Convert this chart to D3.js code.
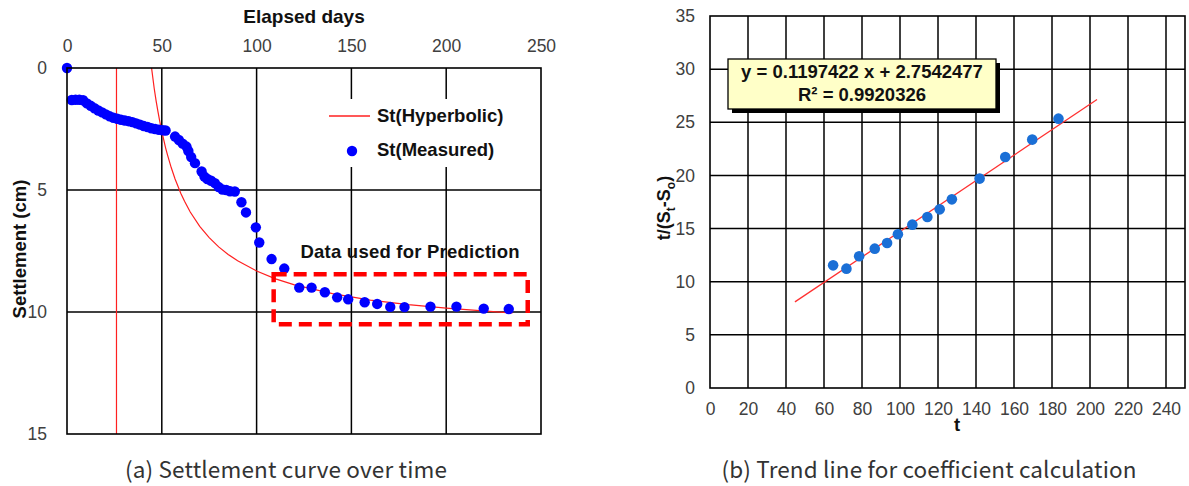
<!DOCTYPE html>
<html><head><meta charset="utf-8">
<script src="https://cdn.jsdelivr.net/npm/d3@7"></script>
<style>body{margin:0;background:#fff}svg{display:block}</style>
</head><body>
<svg id="c" width="1189" height="486"></svg>
<script>
// ---- Panel (a) data ----
const elapsedTicks = [0, 50, 100, 150, 200, 250];
const settleTicks = [0, 5, 10, 15];
const measuredDays = [0,2.5,4.5,6.5,8.5,10.5,12.5,14.5,16.5,18.5,20.5,22.5,24.5,26.5,28.5,30.5,32.5,34.5,36.5,38.5,40.5,42.5,44.5,46.5,48.5,50.5,52,
  57,59,61,63,64,65.5,67.5,71,72.5,74,76,78,80,82,84,86,88.5,92,94.4,99.6,101.4,107.9,114.6,122.5,129,136,142.5,148.3,157,163.6,170.5,178,191.7,205.4,219.8,233];
const measuredS = [0,1.31,1.30,1.30,1.32,1.45,1.55,1.65,1.74,1.82,1.9,1.98,2.04,2.08,2.12,2.15,2.18,2.22,2.27,2.32,2.38,2.42,2.47,2.5,2.53,2.55,2.56,
  2.81,2.95,3.1,3.22,3.4,3.65,3.9,4.24,4.45,4.55,4.62,4.72,4.88,4.98,5.0,5.05,5.06,5.5,5.92,6.53,7.15,7.83,8.22,9.0,9.0,9.19,9.4,9.48,9.6,9.67,9.79,9.8,9.78,9.78,9.86,9.88];
const hypDays = [26.1,26.1,44.6,46,47,48,49,50,52,53,55,57,60,62,65,70,75,80,85,90,100,110,120,140,160,180,200,235];
const hypS = [16,-1,0,0.84,1.35,1.80,2.22,2.6,3.27,3.56,4.09,4.55,5.13,5.46,5.90,6.49,6.95,7.33,7.64,7.90,8.32,8.64,8.89,9.25,9.51,9.70,9.84,10.04];
const predBoxDays = [109, 243];
const predBoxS = [8.45, 10.5];
const legendLabels = ["St(Hyperbolic)", "St(Measured)"];

// ---- Panel (b) data ----
const tTicks = [0,20,40,60,80,100,120,140,160,180,200,220,240];
const ratioTicks = [0,5,10,15,20,25,30,35];
const tVals = [64.8,71.8,78.5,86.7,93.2,98.9,106.5,114.4,120.9,127.3,141.9,155.4,169.6,183.4];
const ratioVals = [11.54,11.23,12.39,13.11,13.64,14.46,15.37,16.09,16.81,17.75,19.70,21.73,23.37,25.34];
const trendT = [44.7, 203.7];
const trendR = [8.1, 27.14];
const eqLines = ["y = 0.1197422 x + 2.7542477", "R\u00B2 = 0.9920326"];

const svg = d3.select("#c");
svg.append("rect").attr("width",1189).attr("height",486).attr("fill","#fff");
const F = "'Liberation Sans', Arial, sans-serif";
const CAP = "'Noto Sans CJK KR','Noto Sans',sans-serif";

// ================= Panel (a) =================
const xL = d3.scaleLinear([0,250],[67,541]);
const yL = d3.scaleLinear([0,15],[68,434]);
const gA = svg.append("g");

// grid
gA.append("g").selectAll("line").data(elapsedTicks.slice(1,-1)).join("line")
  .attr("x1",d=>xL(d)).attr("x2",d=>xL(d)).attr("y1",yL(0)).attr("y2",yL(15))
  .attr("stroke","#000").attr("stroke-width",1.5);
gA.append("g").selectAll("line").data(settleTicks.slice(1,-1)).join("line")
  .attr("y1",d=>yL(d)).attr("y2",d=>yL(d)).attr("x1",xL(0)).attr("x2",xL(250))
  .attr("stroke","#000").attr("stroke-width",1.5);

// legend background
gA.append("rect").attr("x",322).attr("y",99).attr("width",210).attr("height",68).attr("fill","#fff");

// axes labels
const axT = gA.append("g").attr("transform",`translate(0,${yL(0)})`)
  .call(d3.axisTop(xL).tickValues(elapsedTicks).tickSize(0).tickPadding(16.5).tickFormat(d3.format("d")));
axT.select(".domain").remove();
axT.selectAll("text").attr("font-family",F).attr("font-size",17.5).attr("fill","#404040");
const axLft = gA.append("g").attr("transform",`translate(${xL(0)},0)`)
  .call(d3.axisLeft(yL).tickValues(settleTicks).tickSize(0).tickPadding(20).tickFormat(d3.format("d")));
axLft.select(".domain").remove();
axLft.selectAll("text").attr("font-family",F).attr("font-size",17.5).attr("fill","#404040");

// clip
svg.append("clipPath").attr("id","clipA").append("rect")
  .attr("x",xL(0)).attr("y",yL(0)).attr("width",xL(250)-xL(0)).attr("height",yL(15)-yL(0));

// hyperbolic curve
const hypData = hypDays.map((d,i)=>[d,hypS[i]]);
gA.append("path").datum(hypData).attr("clip-path","url(#clipA)")
  .attr("d",d3.line().x(d=>xL(d[0])).y(d=>yL(d[1])))
  .attr("fill","none").attr("stroke","#ff2020").attr("stroke-width",1.2);

// measured points
gA.append("g").selectAll("circle").data(measuredDays.map((d,i)=>[d,measuredS[i]])).join("circle")
  .attr("cx",d=>xL(d[0])).attr("cy",d=>yL(d[1])).attr("r",5.2).attr("fill","#0000ff");

// frame
gA.append("rect").attr("x",xL(0)).attr("y",yL(0)).attr("width",xL(250)-xL(0)).attr("height",yL(15)-yL(0))
  .attr("fill","none").attr("stroke","#000").attr("stroke-width",1.6);

// prediction box
gA.append("rect").attr("x",xL(predBoxDays[0])).attr("y",yL(predBoxS[0]))
  .attr("width",xL(predBoxDays[1])-xL(predBoxDays[0])).attr("height",yL(predBoxS[1])-yL(predBoxS[0]))
  .attr("fill","none").attr("stroke","#ff0000").attr("stroke-width",4.5).attr("stroke-dasharray","13,7");
gA.append("text").attr("x",410).attr("y",258).attr("text-anchor","middle")
  .attr("font-family",F).attr("font-weight","bold").attr("font-size",18.5).attr("fill","#111")
  .attr("textLength",219).attr("lengthAdjust","spacing").text("Data used for Prediction");

// legend
gA.append("line").attr("x1",329).attr("x2",370).attr("y1",116).attr("y2",116).attr("stroke","#ff2020").attr("stroke-width",1.3);
gA.append("circle").attr("cx",352).attr("cy",151).attr("r",5.2).attr("fill","#0000ff");
gA.append("g").selectAll("text").data(legendLabels).join("text")
  .attr("x",377).attr("y",(d,i)=>122+i*34).attr("font-family",F).attr("font-weight","bold").attr("font-size",18.5).attr("fill","#111")
  .text(d=>d);

// titles
gA.append("text").attr("x",304).attr("y",23).attr("text-anchor","middle")
  .attr("font-family",F).attr("font-weight","bold").attr("font-size",19).attr("fill","#111").text("Elapsed days");
gA.append("text").attr("transform","translate(26,249) rotate(-90)").attr("text-anchor","middle")
  .attr("font-family",F).attr("font-weight","bold").attr("font-size",18.5).attr("fill","#111").text("Settlement (cm)");
gA.append("text").attr("x",286).attr("y",478).attr("text-anchor","middle")
  .attr("font-family",CAP).attr("font-weight",400).attr("font-size",22.5).attr("fill","#333")
  .attr("textLength",322).attr("lengthAdjust","spacing").text("(a) Settlement curve over time");

// ================= Panel (b) =================
const xR = d3.scaleLinear([0,250],[710,1185]);
const yR = d3.scaleLinear([0,35],[388,16]);
const gB = svg.append("g");

gB.append("g").selectAll("line").data(tTicks.slice(1)).join("line")
  .attr("x1",d=>xR(d)).attr("x2",d=>xR(d)).attr("y1",yR(0)).attr("y2",yR(35))
  .attr("stroke","#000").attr("stroke-width",1.5);
gB.append("g").selectAll("line").data(ratioTicks.slice(1,-1)).join("line")
  .attr("y1",d=>yR(d)).attr("y2",d=>yR(d)).attr("x1",xR(0)).attr("x2",xR(250))
  .attr("stroke","#000").attr("stroke-width",1.5);

const axB = gB.append("g").attr("transform",`translate(0,${yR(0)})`)
  .call(d3.axisBottom(xR).tickValues(tTicks).tickSize(0).tickPadding(15).tickFormat(d3.format("d")));
axB.select(".domain").remove();
axB.selectAll("text").attr("font-family",F).attr("font-size",17.5).attr("fill","#404040");
const axBL = gB.append("g").attr("transform",`translate(${xR(0)},0)`)
  .call(d3.axisLeft(yR).tickValues(ratioTicks).tickSize(0).tickPadding(15).tickFormat(d3.format("d")));
axBL.select(".domain").remove();
axBL.selectAll("text").attr("font-family",F).attr("font-size",17.5).attr("fill","#404040");

gB.append("rect").attr("x",xR(0)).attr("y",yR(35)).attr("width",xR(250)-xR(0)).attr("height",yR(0)-yR(35))
  .attr("fill","none").attr("stroke","#000").attr("stroke-width",1.6);

// trend line
gB.append("path").datum(trendT.map((d,i)=>[d,trendR[i]]))
  .attr("d",d3.line().x(d=>xR(d[0])).y(d=>yR(d[1])))
  .attr("stroke","#ff3030").attr("stroke-width",1.3).attr("fill","none");
// points
gB.append("g").selectAll("circle").data(tVals.map((d,i)=>[d,ratioVals[i]])).join("circle")
  .attr("cx",d=>xR(d[0])).attr("cy",d=>yR(d[1])).attr("r",5.3).attr("fill","#1a6fd6");

// equation box
gB.append("rect").attr("x",732).attr("y",63).attr("width",268).attr("height",50).attr("fill","#000");
gB.append("rect").attr("x",728).attr("y",59).attr("width",268).attr("height",50).attr("fill","#ffffc8").attr("stroke","#000").attr("stroke-width",1.3);
gB.append("g").selectAll("text").data(eqLines).join("text")
  .attr("x",862).attr("y",(d,i)=>78+i*23).attr("text-anchor","middle")
  .attr("font-family",F).attr("font-weight","bold").attr("font-size",18.5).attr("fill","#111")
  .text(d=>d);

// axis titles
gB.append("text").attr("x",957).attr("y",431).attr("text-anchor","middle")
  .attr("font-family",F).attr("font-weight","bold").attr("font-size",18.5).attr("fill","#111").text("t");
const yt = gB.append("text").attr("transform","translate(670,208) rotate(-90)").attr("text-anchor","middle")
  .attr("font-family",F).attr("font-weight","bold").attr("font-size",18).attr("fill","#111");
yt.append("tspan").text("t/(S");
yt.append("tspan").attr("font-size",12).attr("dy",5).text("t");
yt.append("tspan").attr("dy",-5).text("-S");
yt.append("tspan").attr("font-size",12).attr("dy",5).text("o");
yt.append("tspan").attr("dy",-5).text(")");

gB.append("text").attr("x",929).attr("y",478).attr("text-anchor","middle")
  .attr("font-family",CAP).attr("font-weight",400).attr("font-size",22.5).attr("fill","#333")
  .attr("textLength",415).attr("lengthAdjust","spacing").text("(b) Trend line for coefficient calculation");
</script>
</body></html>
